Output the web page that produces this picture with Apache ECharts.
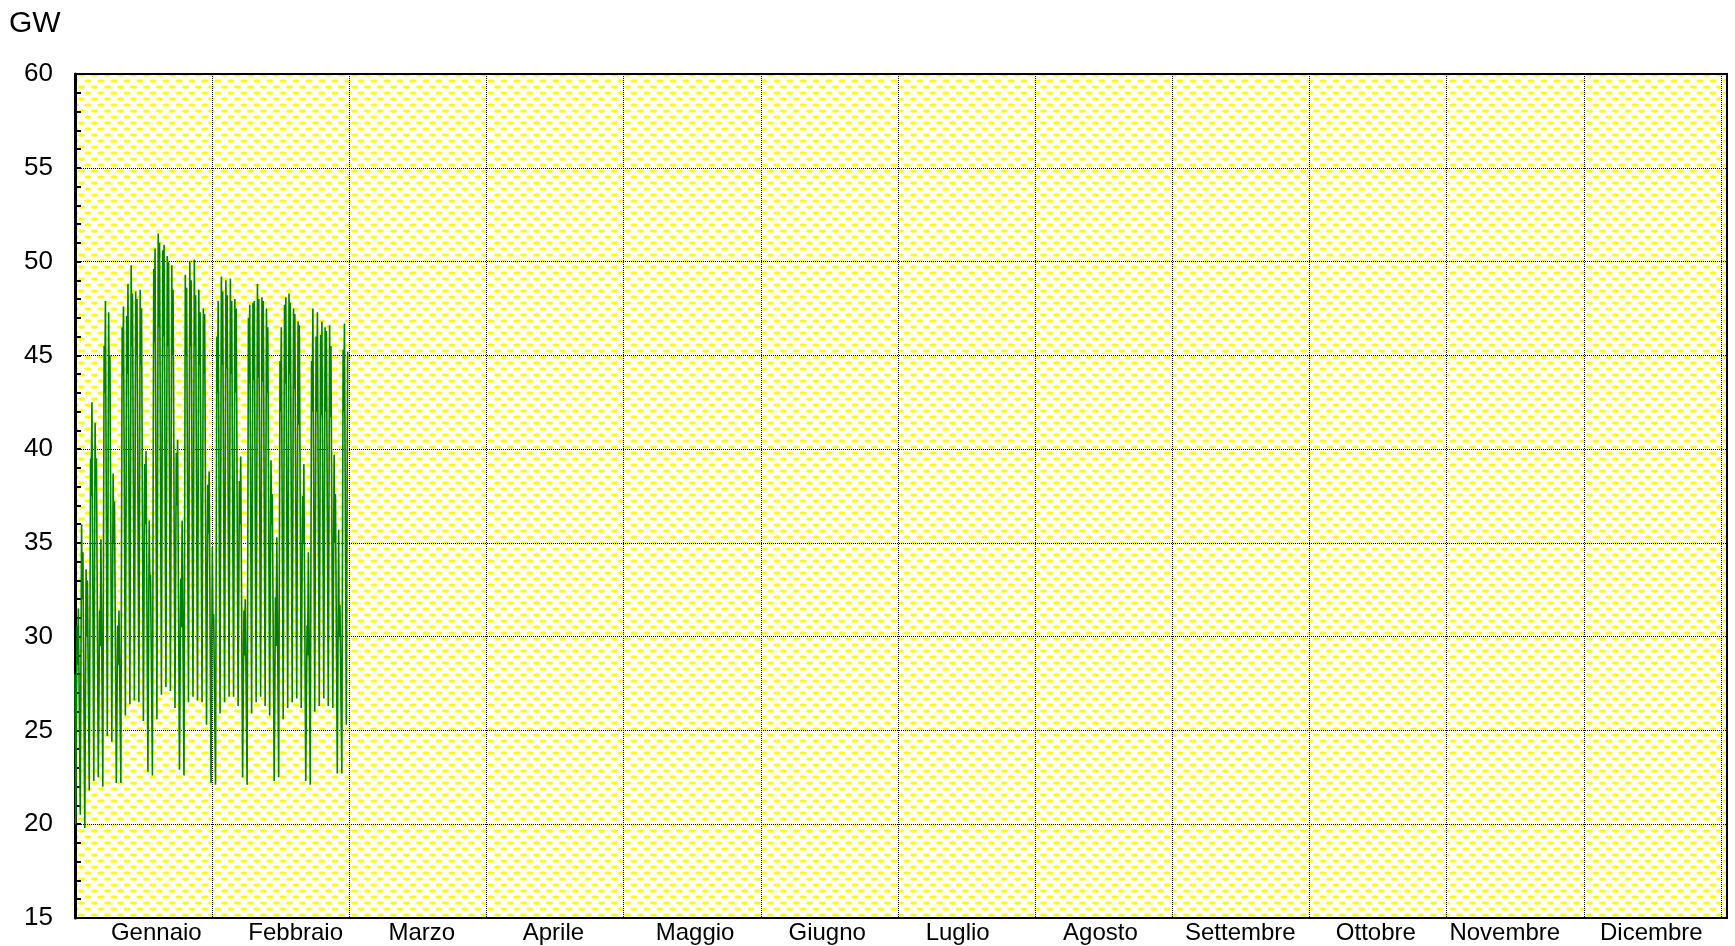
<!DOCTYPE html>
<html>
<head>
<meta charset="utf-8">
<script src="https://cdn.jsdelivr.net/npm/echarts@6/dist/echarts.min.js"></script>
<style>
  html, body { margin: 0; padding: 0; background: #ffffff; }
  #chart { width: 1735px; height: 946px; }
</style>
</head>
<body>
<div id="chart"></div>
<script>
// Month names along the bottom axis
const months = ['Gennaio', 'Febbraio', 'Marzo', 'Aprile', 'Maggio', 'Giugno',
  'Luglio', 'Agosto', 'Settembre', 'Ottobre', 'Novembre', 'Dicembre'];

// Load axis range (GW)
const yMin = 15, yMax = 60, yStep = 5;

// Hourly load, one entry per day from 1 January (GW)
const startValue = 28.0;                 // 1 Jan, 00:00
const profileHours = [4, 11, 14, 18];    // night low, morning peak, midday dip, evening peak
const nightLow = [
  20.0, 20.5, 19.8, 21.8, 22.3, 22.5, 22.0, 24.7, 24.4, 22.2,
  22.2, 25.8, 26.4, 26.6, 26.5, 25.5, 22.8, 22.6, 25.6, 26.9,
  27.3, 27.1, 26.2, 22.9, 22.6, 26.5, 26.8, 26.6, 26.5, 25.3,
  22.2, 22.1, 25.9, 26.5, 26.8, 26.8, 26.3, 22.5, 22.1, 25.9,
  26.5, 26.8, 26.3, 25.8, 22.3, 22.5, 25.6, 26.2, 26.5, 26.7,
  26.2, 22.3, 22.1, 26.0, 26.3, 26.7, 26.3, 26.2, 22.7, 22.7,
  25.3
];
const morningPeak = [
  30.6, 36.0, 33.6, 39.5, 41.4, 31.4, 45.5, 47.3, 38.7, 30.6,
  46.5, 47.1, 49.8, 48.4, 48.5, 39.2, 36.2, 49.6, 51.5, 50.6,
  50.3, 49.8, 39.8, 33.1, 49.3, 50.0, 50.1, 48.5, 47.5, 38.1,
  34.8, 46.0, 49.2, 49.0, 49.1, 48.0, 38.3, 31.4, 47.0, 47.8,
  48.8, 48.1, 47.5, 39.4, 32.1, 44.7, 47.7, 48.3, 47.5, 46.8,
  37.5, 30.6, 44.7, 46.0, 46.1, 46.5, 46.6, 39.7, 35.7, 45.3,
  45.2
];
const middayDip = [
  28.5, 32.0, 30.0, 37.5, 38.0, 29.5, 43.0, 43.5, 35.0, 28.5,
  43.9, 44.0, 45.5, 45.0, 44.5, 36.0, 33.0, 45.7, 46.5, 46.0,
  45.5, 45.0, 37.0, 30.5, 45.0, 45.5, 45.5, 44.5, 44.0, 35.5,
  30.5, 43.0, 44.5, 44.3, 44.0, 43.0, 36.0, 29.0, 43.5, 43.7,
  43.8, 43.6, 43.0, 36.0, 29.5, 42.0, 43.5, 44.0, 43.2, 41.3,
  35.0, 29.0, 42.0, 42.0, 41.8, 42.0, 41.7, 35.0, 30.0, 42.0
];
const eveningPeak = [
  31.5, 34.5, 33.0, 42.5, 39.5, 35.2, 47.9, 45.0, 37.2, 31.4,
  47.6, 48.8, 48.3, 48.0, 47.5, 39.9, 33.3, 50.7, 51.0, 50.9,
  50.0, 48.5, 40.5, 36.2, 48.6, 49.0, 48.2, 47.3, 47.2, 38.8,
  31.2, 47.9, 48.4, 48.2, 47.9, 47.5, 39.6, 32.0, 47.7, 47.9,
  48.0, 47.9, 46.5, 37.6, 35.3, 46.5, 48.1, 47.8, 47.2, 46.6,
  39.2, 34.5, 47.5, 47.3, 46.8, 46.3, 45.5, 37.6, 31.7, 46.7
];

// Points as [day of year, GW]
const loadPoints = [[0, startValue]];
const profiles = [nightLow, morningPeak, middayDip, eveningPeak];
for (let d = 0; d < nightLow.length; d++) {
  profiles.forEach((arr, k) => {
    if (d < arr.length) loadPoints.push([d + profileHours[k] / 24, arr[d]]);
  });
}

// Horizontal nudge of each month label from its cell centre (px)
const labelShift = [12.7, 14.9, 3.9, -1.7, 2.8, -2.2, -8.9, -3.3, -0.6, -2.2, -10.5, -1.1];
const labelRich = {};
labelShift.forEach((s, i) => {
  labelRich['m' + i] = {
    fontFamily: 'Liberation Sans, Arial, sans-serif', fontSize: 24, color: '#000',
    padding: s >= 0 ? [0, 0, 0, 2 * s] : [0, -2 * s, 0, 0]
  };
});

// Yellow dotted fill of the plot area
function dotPattern() {
  const c = document.createElement('canvas');
  c.width = 13; c.height = 12;
  const g = c.getContext('2d');
  g.fillStyle = '#ffffff';
  g.fillRect(0, 0, 13, 12);
  const dots = [[3.5, 3], [10, 9], [-3, 9], [16.5, 3]];
  g.fillStyle = '#ffff55';
  dots.forEach(([x, y]) => { g.beginPath(); g.ellipse(x, y, 3.7, 1.8, 0, 0, Math.PI * 2); g.fill(); });
  g.fillStyle = '#ffff00';
  dots.forEach(([x, y]) => { g.beginPath(); g.ellipse(x, y, 3.0, 1.3, 0, 0, Math.PI * 2); g.fill(); });
  return c;
}

const font = 'Liberation Sans, Arial, sans-serif';
const chart = echarts.init(document.getElementById('chart'), null, { renderer: 'canvas' });

chart.setOption({
  animation: false,
  backgroundColor: '#ffffff',
  title: {
    text: 'GW', left: 4, top: 4,
    textStyle: { fontFamily: font, fontSize: 30, fontWeight: 'normal', color: '#000' }
  },
  grid: [
    { left: 75, right: 8, top: 74, bottom: 28, show: true,
      backgroundColor: { image: dotPattern(), repeat: 'repeat' },
      borderColor: '#000', borderWidth: 2, containLabel: false },
    { left: 75, right: 14, top: 74, bottom: 28, containLabel: false }
  ],
  xAxis: [
    { gridIndex: 0, type: 'value', min: 0, max: 1, show: false },
    { gridIndex: 1, type: 'category', data: months, boundaryGap: true,
      axisLine: { show: false }, axisTick: { show: false },
      axisLabel: { fontFamily: font, fontSize: 24, color: '#000', margin: 3, interval: 0,
        formatter: (v, i) => '{m' + i + '|' + v + '}', rich: labelRich },
      splitLine: { show: true, lineStyle: { color: '#000', width: 1, type: [1, 1] } } },
    { gridIndex: 1, type: 'value', min: 0, max: 365, show: false }
  ],
  yAxis: [
    { gridIndex: 0, type: 'value', min: yMin, max: yMax, interval: yStep,
      axisLine: { show: true, lineStyle: { color: '#000', width: 3 } },
      axisTick: { show: true, inside: true, length: 6, lineStyle: { color: '#000', width: 2 } },
      minorTick: { show: true, splitNumber: 5, length: 6, lineStyle: { color: '#000', width: 2 } },
      axisLabel: { fontFamily: font, fontSize: 26, color: '#000', margin: 22 },
      splitLine: { show: true, lineStyle: { color: '#000', width: 1, type: [1, 1] } } },
    { gridIndex: 1, type: 'value', min: yMin, max: yMax, show: false }
  ],
  series: [{
    type: 'line',
    xAxisIndex: 2, yAxisIndex: 1,
    data: loadPoints,
    showSymbol: false,
    sampling: null,
    lineStyle: { color: '#008000', width: 1.6 },
    z: 5
  }]
});
</script>
</body>
</html>
